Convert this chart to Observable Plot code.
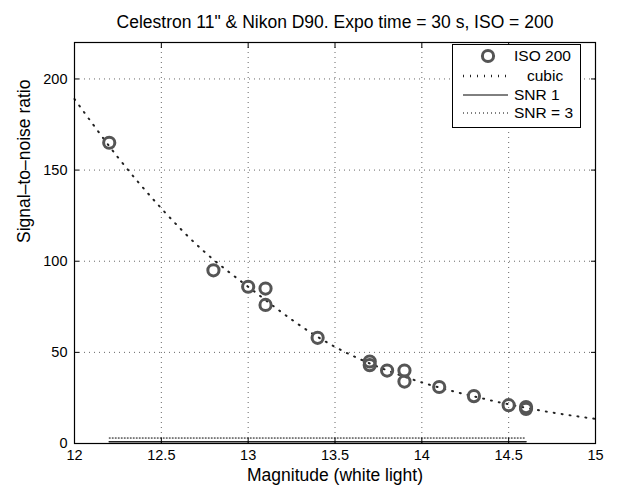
<!DOCTYPE html>
<html>
<head>
<meta charset="utf-8">
<script src="https://cdn.jsdelivr.net/npm/d3@7"></script>
<script src="https://cdn.jsdelivr.net/npm/@observablehq/plot@0.6"></script>
<style>
  html, body { margin: 0; padding: 0; background: #fff; }
  #wrap { position: relative; width: 620px; height: 491px; font-family: "Liberation Sans", Arial, sans-serif; }
  #legend { position: absolute; left: 452px; top: 44px; width: 127px; height: 82px; border: 1px solid #000; background: #fff; }
  #legend .row { position: absolute; left: 0; height: 18px; width: 127px; }
  #legend .row svg { position: absolute; left: 0; top: 0; }
  #legend .row span { position: absolute; top: 0; line-height: 18px; font-size: 15.5px; color: #000; white-space: nowrap; }
</style>
</head>
<body>
<div id="wrap"></div>
<script>
const titleText = "Celestron 11\" & Nikon D90. Expo time = 30 s, ISO = 200";
const xLabel = "Magnitude (white light)";
const yLabel = "Signal\u2013to\u2013noise ratio";

// measured points (ISO 200)
const magnitude = [12.2, 12.8, 13.0, 13.1, 13.1, 13.4, 13.7, 13.7, 13.8, 13.9, 13.9, 14.1, 14.3, 14.5, 14.6, 14.6];
const snr       = [165,  95,   86,   85,   76,   58,   45,   43,   40,   40,   34,   31,   26,   21,   20,   19];

// cubic fit
const cubicX = [12, 12.25, 12.5, 12.75, 13, 13.25, 13.5, 13.75, 14, 14.25, 14.5, 14.75, 15];
const cubicY = [189, 157, 129, 105, 86, 68, 53, 42, 33.5, 27, 21.5, 17, 13.5];

// SNR reference levels
const snr1Level = 1;
const snr3Level = 3;

const xTicks = [12, 12.5, 13, 13.5, 14, 14.5, 15];
const xTickLabels = ["12", "12.5", "13", "13.5", "14", "14.5", "15"];
const yTicks = [0, 50, 100, 150, 200];
const yTickLabels = ["0", "50", "100", "150", "200"];

const legendLabels = ["ISO 200", "cubic", "SNR 1", "SNR = 3"];

const points = magnitude.map((m, i) => ({x: m, y: snr[i]}));
const cubic = cubicX.map((m, i) => ({x: m, y: cubicY[i]}));
const sortedMag = [...magnitude].sort((a, b) => a - b);
const snr1Line = sortedMag.map(m => ({x: m, y: snr1Level}));
const snr3Line = sortedMag.map(m => ({x: m, y: snr3Level}));

const font = "Liberation Sans, Arial, sans-serif";
const gridStyle = {stroke: "#000", strokeOpacity: 0.6, strokeDasharray: "1,4", strokeWidth: 1};

const chart = Plot.plot({
  width: 620,
  height: 491,
  marginLeft: 74,
  marginRight: 25,
  marginTop: 42,
  marginBottom: 48,
  style: {fontFamily: font, background: "#fff", color: "#000", overflow: "visible"},
  x: {domain: [12, 15]},
  y: {domain: [0, 220]},
  marks: [
    Plot.gridX(xTicks, gridStyle),
    Plot.gridY(yTicks, gridStyle),
    Plot.line(snr1Line, {x: "x", y: "y", stroke: "#222", strokeWidth: 1.6}),
    Plot.line(snr3Line, {x: "x", y: "y", stroke: "#000", strokeWidth: 1, strokeDasharray: "1,2"}),
    Plot.line(cubic, {x: "x", y: "y", curve: "natural", stroke: "#222", strokeWidth: 2, strokeDasharray: "1,7"}),
    Plot.dot(points, {x: "x", y: "y", r: 5.6, stroke: "#555", strokeWidth: 3, fill: "none"}),
    Plot.frame({stroke: "#000", strokeWidth: 1.2}),
    // inward ticks on all four sides
    Plot.axisX(xTicks, {anchor: "bottom", tickSize: -5, tickFormat: () => "", label: null}),
    Plot.axisX(xTicks, {anchor: "top", tickSize: -5, tickFormat: () => "", label: null}),
    Plot.axisY(yTicks, {anchor: "left", tickSize: -5, tickFormat: () => "", label: null}),
    Plot.axisY(yTicks, {anchor: "right", tickSize: -5, tickFormat: () => "", label: null}),
    // tick labels
    Plot.axisX(xTicks, {anchor: "bottom", tickSize: 0, tickPadding: 6, fontSize: 14.5, tickFormat: (d, i) => xTickLabels[i], label: null}),
    Plot.axisY(yTicks, {anchor: "left", tickSize: 0, tickPadding: 7, fontSize: 14.5, tickFormat: (d, i) => yTickLabels[i], label: null}),
    // titles
    Plot.text([titleText], {frameAnchor: "top", dy: -27, fontSize: 17.5, text: d => d}),
    Plot.text([xLabel], {frameAnchor: "bottom", dy: 37, fontSize: 17.5, text: d => d}),
    Plot.text([yLabel], {frameAnchor: "left", dx: -50, rotate: -90, fontSize: 17.5, text: d => d})
  ]
});

const wrap = document.getElementById("wrap");
wrap.appendChild(chart);

// legend
const legend = document.createElement("div");
legend.id = "legend";
const rows = [
  {top: 2, sample: '<circle cx="35" cy="9" r="5.6" fill="none" stroke="#555" stroke-width="3"/>', textLeft: 61},
  {top: 22, sample: '<line x1="10" x2="55" y1="9" y2="9" stroke="#222" stroke-width="2.6" stroke-dasharray="1,6"/>', textLeft: 74},
  {top: 41, sample: '<line x1="10" x2="55" y1="9" y2="9" stroke="#000" stroke-width="1"/>', textLeft: 61},
  {top: 59, sample: '<line x1="10" x2="55" y1="9" y2="9" stroke="#000" stroke-width="1" stroke-dasharray="1,3"/>', textLeft: 61}
];
rows.forEach((r, i) => {
  const row = document.createElement("div");
  row.className = "row";
  row.style.top = r.top + "px";
  row.innerHTML = `<svg width="60" height="18">${r.sample}</svg><span style="left:${r.textLeft}px">${legendLabels[i]}</span>`;
  legend.appendChild(row);
});
wrap.appendChild(legend);
</script>
</body>
</html>
